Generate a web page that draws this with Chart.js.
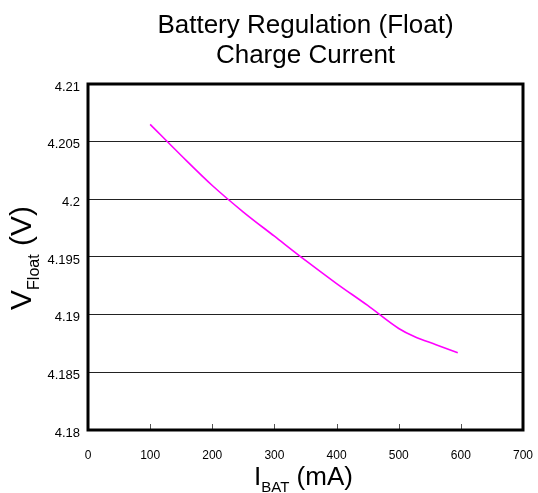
<!DOCTYPE html>
<html>
<head>
<meta charset="utf-8">
<title>Battery Regulation (Float)</title>
<script src="https://cdn.jsdelivr.net/npm/chart.js@4.4.1/dist/chart.umd.min.js"></script>
<style>
  html, body { margin: 0; padding: 0; background: #fff; }
  #grafica { display: block; }
</style>
</head>
<body>
<canvas id="grafica" width="538" height="493"></canvas>
<script>
// valores
const corrienteMA = [100, 150, 200, 250, 300, 350, 400, 450, 500, 525, 560, 595];
const voltajeFloat = [4.2065, 4.2038, 4.2012, 4.1989, 4.1968, 4.1947, 4.1927, 4.1908, 4.1888, 4.1881, 4.1874, 4.1867];
const ticksX = [0, 100, 200, 300, 400, 500, 600, 700];
const ticksY = [4.18, 4.185, 4.19, 4.195, 4.2, 4.205, 4.21];
const titulo = ['Battery Regulation (Float)', 'Charge Current'];
const tituloX = [['I', 0], ['BAT', 1], [' (mA)', 0]];
const tituloY = [['V', 0], ['Float', 1], [' (V)', 0]];

const fuente = '"Liberation Sans", Arial, Helvetica, sans-serif';

// dibuja un texto con subindice, centrado en x
function textoConSub(ctx, partes, x, y, grande, chico, bajada) {
  let total = 0;
  partes.forEach(p => {
    ctx.font = (p[1] ? chico : grande) + 'px ' + fuente;
    total += ctx.measureText(p[0]).width;
  });
  let pos = x - total / 2;
  ctx.textAlign = 'left';
  partes.forEach(p => {
    ctx.font = (p[1] ? chico : grande) + 'px ' + fuente;
    ctx.fillText(p[0], pos, y + (p[1] ? bajada : 0));
    pos += ctx.measureText(p[0]).width;
  });
}

const textos = {
  id: 'textos',
  afterDraw(chart) {
    const ctx = chart.ctx;
    const area = chart.chartArea;
    const cx = (area.left + area.right) / 2;
    const escalaX = chart.scales.x;
    ctx.save();

    // marquitas hacia adentro en el eje x
    ctx.strokeStyle = '#555';
    ctx.lineWidth = 1;
    ticksX.slice(1, -1).forEach(v => {
      const px = Math.round(escalaX.getPixelForValue(v)) + 0.5;
      ctx.beginPath();
      ctx.moveTo(px, area.bottom - 6);
      ctx.lineTo(px, area.bottom);
      ctx.stroke();
    });

    // marco grueso
    ctx.strokeStyle = '#000';
    ctx.lineWidth = 3;
    ctx.strokeRect(area.left, area.top, area.right - area.left, area.bottom - area.top);

    // titulo
    ctx.fillStyle = '#000';
    ctx.textBaseline = 'alphabetic';
    ctx.textAlign = 'center';
    ctx.font = '26px ' + fuente;
    ctx.fillText(titulo[0], cx, 33);
    ctx.fillText(titulo[1], cx, 63);

    // titulo eje x
    textoConSub(ctx, tituloX, cx - 2, 485, 26, 15, 7);

    // titulo eje y (rotado)
    ctx.translate(31, 258);
    ctx.rotate(-Math.PI / 2);
    textoConSub(ctx, tituloY, 0, 0, 30, 16, 8);

    ctx.restore();
  }
};

const config = {
  type: 'line',
  data: {
    datasets: [{
      label: 'VFloat',
      data: corrienteMA.map((c, i) => ({ x: c, y: voltajeFloat[i] })),
      borderColor: '#ff00ff',
      borderWidth: 1.6,
      pointRadius: 0,
      cubicInterpolationMode: 'monotone',
      fill: false
    }]
  },
  options: {
    responsive: false,
    animation: false,
    devicePixelRatio: 1,
    layout: { padding: { top: 84, right: 15, left: 0, bottom: 0 } },
    plugins: {
      legend: { display: false },
      title: { display: false },
      tooltip: { enabled: false }
    },
    scales: {
      x: {
        type: 'linear',
        min: 0,
        max: 700,
        afterBuildTicks: s => { s.ticks = ticksX.map(v => ({ value: v })); },
        afterFit: s => { s.height = 63; s.paddingLeft = 0; s.paddingRight = 0; },
        grid: { drawOnChartArea: false, drawTicks: false },
        border: { display: false },
        ticks: {
          padding: 18,
          color: '#000',
          font: { family: fuente, size: 12 },
          maxRotation: 0
        }
      },
      y: {
        min: 4.18,
        max: 4.21,
        afterBuildTicks: s => { s.ticks = ticksY.map(v => ({ value: v })); },
        afterFit: s => { s.width = 88; s.paddingTop = 0; s.paddingBottom = 0; },
        grid: { color: '#222', lineWidth: 1, drawTicks: false },
        border: { display: false },
        ticks: {
          padding: 8,
          labelOffset: 3,
          color: '#000',
          font: { family: fuente, size: 13 },
          callback: v => Number(v.toFixed(3)).toString()
        }
      }
    }
  },
  plugins: [textos]
};

window.addEventListener('DOMContentLoaded', () => {
  new Chart(document.getElementById('grafica'), config);
});
</script>
</body>
</html>
